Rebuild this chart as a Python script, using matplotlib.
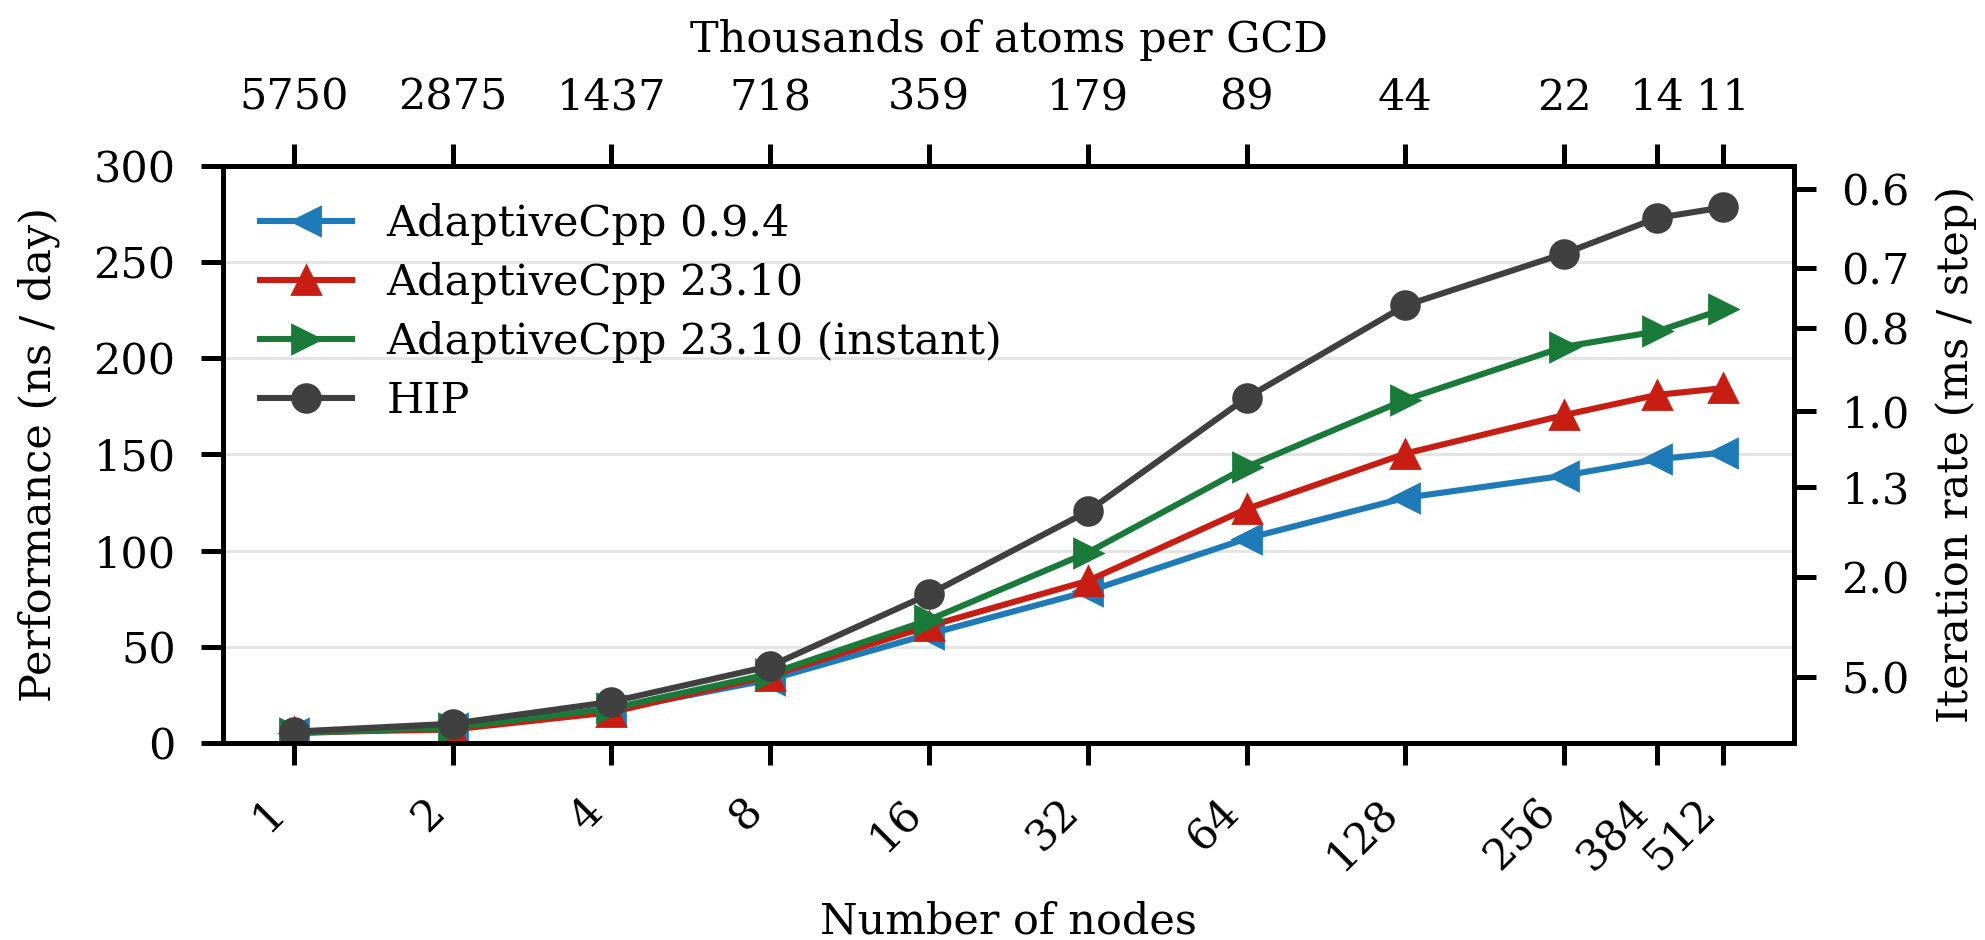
import matplotlib
matplotlib.use("Agg")
import matplotlib.pyplot as plt
import numpy as np

plt.rcParams['font.family'] = ['DejaVu Serif']
plt.rcParams['font.size'] = 15.5

nodes = [1, 2, 4, 8, 16, 32, 64, 128, 256, 384, 512]
node_labels = ["1", "2", "4", "8", "16", "32", "64", "128", "256", "384", "512"]
atoms_labels = ["5750", "2875", "1437", "718", "359", "179", "89", "44", "22", "14", "11"]

acpp_094 = [5.0, 8.0, 17.0, 33.0, 56.6, 78.8, 106.3, 127.5, 139.0, 147.5, 151.0]
acpp_2310 = [5.5, 7.0, 16.0, 35.0, 60.8, 84.3, 121.7, 150.5, 170.5, 181.0, 184.5]
acpp_2310_inst = [5.3, 8.0, 18.0, 36.0, 64.0, 99.0, 143.5, 178.5, 206.0, 214.0, 225.5]
hip = [5.9, 10.0, 21.4, 40.0, 77.3, 120.4, 179.5, 227.5, 254.5, 273.0, 278.5]

ms_ticks = [0.6, 0.7, 0.8, 1.0, 1.3, 2.0, 5.0]
ms_labels = ["0.6", "0.7", "0.8", "1.0", "1.3", "2.0", "5.0"]
ns_per_day_per_inv_ms = 172.8  # 2 fs timestep

series = [
    ("AdaptiveCpp 0.9.4", acpp_094, '#1f7ab8', '<'),
    ("AdaptiveCpp 23.10", acpp_2310, '#c81d13', '^'),
    ("AdaptiveCpp 23.10 (instant)", acpp_2310_inst, '#1a7a3a', '>'),
    ("HIP", hip, '#404040', 'o'),
]

fig = plt.figure(figsize=(9.925, 4.7), dpi=200)
ax = fig.add_axes([0.1123, 0.2096, 0.7915, 0.6138])

for label, vals, color, marker in series:
    ax.plot(nodes, vals, color=color, marker=marker, lw=2.2, ms=10, label=label)

ax.set_xscale('log', base=2)
ax.set_xlim(0.734, 698)
ax.set_ylim(0, 300)
ax.set_yticks([0, 50, 100, 150, 200, 250, 300])
ax.set_xticks(nodes)
ax.set_xticklabels(node_labels, rotation=45, ha='right')
ax.minorticks_off()
ax.yaxis.grid(True, color='#e4e4e4', lw=1.0)
ax.set_axisbelow(True)
ax.set_xlabel("Number of nodes", labelpad=8)
ax.set_ylabel("Performance (ns / day)", labelpad=12)

tick_kw = dict(direction='out', length=8, width=1.8, pad=9)
for s in ax.spines.values():
    s.set_linewidth(1.8)
ax.tick_params(**tick_kw)

ax2 = ax.twinx()
ax2.set_ylim(ax.get_ylim())
ax2.set_yticks([ns_per_day_per_inv_ms / m for m in ms_ticks])
ax2.set_yticklabels(ms_labels)
ax2.set_ylabel("Iteration rate (ms / step)", labelpad=9)
ax2.tick_params(**tick_kw)
for s in ax2.spines.values():
    s.set_linewidth(1.8)

ax3 = ax.twiny()
ax3.set_xscale('log', base=2)
ax3.set_xlim(ax.get_xlim())
ax3.set_xticks(nodes)
ax3.set_xticklabels(atoms_labels)
ax3.minorticks_off()
ax3.set_xlabel("Thousands of atoms per GCD", labelpad=9)
ax3.tick_params(**tick_kw)
for s in ax3.spines.values():
    s.set_linewidth(1.8)

ax.legend(loc='upper left', frameon=False, handlelength=2.15, handletextpad=0.8,
          labelspacing=0.4, fontsize=15.5, borderaxespad=0.45)

fig.savefig("out.png", dpi=200)
